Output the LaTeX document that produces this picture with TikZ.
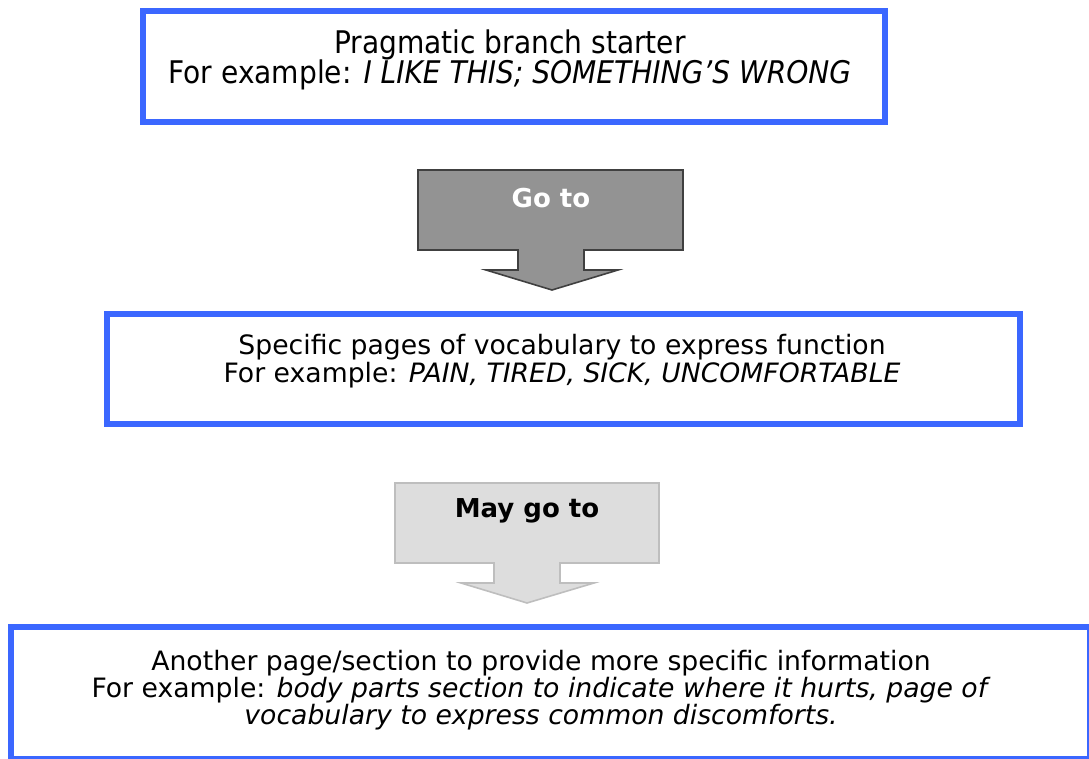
\documentclass[tikz,border=0pt]{standalone}
\usepackage{fontspec}
\setmainfont{DejaVu Sans}
\newfontfamily\condfont{DejaVu Sans Condensed}
\definecolor{boxblue}{RGB}{59,103,255}
\definecolor{darkfill}{RGB}{147,147,147}
\definecolor{darkline}{RGB}{64,64,64}
\definecolor{lightfill}{RGB}{221,221,221}
\definecolor{lightline}{RGB}{190,190,190}
\begin{document}
\begin{tikzpicture}[x=0.75pt,y=-0.75pt,
  bluebox/.style={draw=boxblue, line width=4.3pt, fill=white, inner sep=0pt},
  boxtext/.style={align=center, inner sep=0pt, font=\fontsize{20}{20.5}\selectfont},
  arrowlabel/.style={inner sep=0pt, font=\fontsize{19.5}{22}\selectfont\bfseries},
  darkarrow/.style={fill=darkfill, draw=darkline, line width=1.2pt, line join=miter},
  lightarrow/.style={fill=lightfill, draw=lightline, line width=1.2pt, line join=miter}]
\useasboundingbox (0,0) rectangle (1089,759);

% boxes
\node[bluebox, minimum width=556.9pt, minimum height=83.6pt] (b1) at (514,66.5) {};
\node[bluebox, minimum width=684.8pt, minimum height=82.5pt] (b2) at (563.5,369) {};
\node[bluebox, minimum width=809.3pt, minimum height=99pt] (b3) at (550.5,693) {};

% box texts
\node[boxtext, font=\fontsize{23.4}{23}\selectfont\condfont] (t1) at (510,60)
  {Pragmatic branch starter\\For example: \textit{I LIKE THIS; SOMETHING’S WRONG}};
\node[boxtext] (t2) at (562,361)
  {Specific pages of vocabulary to express function\\For example: \textit{PAIN, TIRED, SICK, UNCOMFORTABLE}};
\node[boxtext] (t3) at (541,690)
  {Another page/section to provide more specific information\\For example: \textit{body parts section to indicate where it hurts, page of}\\\textit{vocabulary to express common discomforts.}};

% block arrows between the boxes
\draw[darkarrow] (418,170) -- (683,170) -- (683,250) -- (584,250) -- (584,270)
  -- (618,270) -- (552,290) -- (486,270) -- (518,270) -- (518,250) -- (418,250) -- cycle;
\node[arrowlabel, text=white] (a1) at (551,198) {Go to};

\draw[lightarrow] (395,483) -- (659,483) -- (659,563) -- (560,563) -- (560,583)
  -- (594,583) -- (527,603) -- (461,583) -- (494,583) -- (494,563) -- (395,563) -- cycle;
\node[arrowlabel, text=black] (a2) at (527,511) {May go to};
\end{tikzpicture}
\end{document}
